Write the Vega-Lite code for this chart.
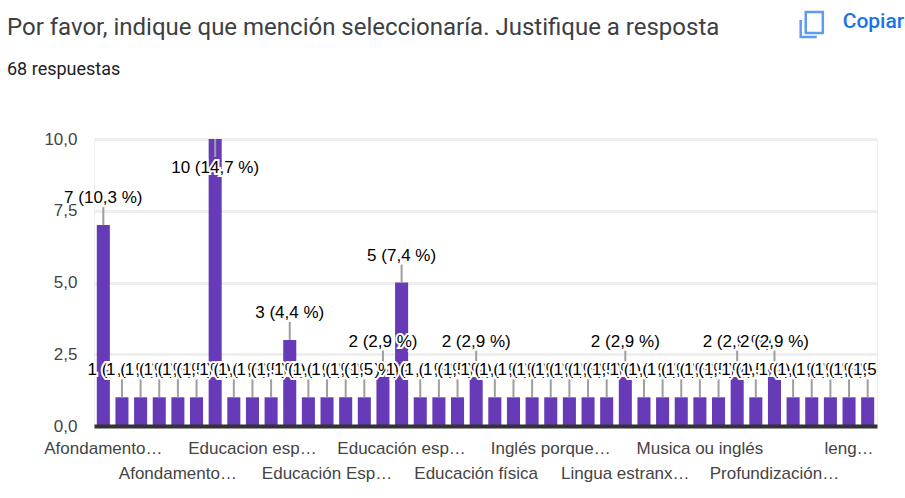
{"$schema":"https://vega.github.io/schema/vega-lite/v6.json","width":783,"height":287,"autosize":"none","padding":{"left":94,"top":139,"right":28,"bottom":72},"background":"white",
"title":{"text":"Por favor, indique que mención seleccionaría. Justifique a resposta","subtitle":"68 respuestas","anchor":"start","frame":"group","dx":-87,"offset":-72,"font":"Roboto","fontSize":24,"fontWeight":"normal","color":"#3c4043","subtitleFont":"Roboto","subtitleFontSize":18,"subtitleColor":"#202124","subtitlePadding":21},
"data":{"values":[{"n":1,"valor":7,"etiqueta":"7 (10,3 %)"},{"n":2,"valor":1,"etiqueta":"1 (1,5 %)"},{"n":3,"valor":1,"etiqueta":"1 (1,5 %)"},{"n":4,"valor":1,"etiqueta":"1 (1,5 %)"},{"n":5,"valor":1,"etiqueta":"1 (1,5 %)"},{"n":6,"valor":1,"etiqueta":"1 (1,5 %)"},{"n":7,"valor":10,"etiqueta":"10 (14,7 %)"},{"n":8,"valor":1,"etiqueta":"1 (1,5 %)"},{"n":9,"valor":1,"etiqueta":"1 (1,5 %)"},{"n":10,"valor":1,"etiqueta":"1 (1,5 %)"},{"n":11,"valor":3,"etiqueta":"3 (4,4 %)"},{"n":12,"valor":1,"etiqueta":"1 (1,5 %)"},{"n":13,"valor":1,"etiqueta":"1 (1,5 %)"},{"n":14,"valor":1,"etiqueta":"1 (1,5 %)"},{"n":15,"valor":1,"etiqueta":"1 (1,5 %)"},{"n":16,"valor":2,"etiqueta":"2 (2,9 %)"},{"n":17,"valor":5,"etiqueta":"5 (7,4 %)"},{"n":18,"valor":1,"etiqueta":"1 (1,5 %)"},{"n":19,"valor":1,"etiqueta":"1 (1,5 %)"},{"n":20,"valor":1,"etiqueta":"1 (1,5 %)"},{"n":21,"valor":2,"etiqueta":"2 (2,9 %)"},{"n":22,"valor":1,"etiqueta":"1 (1,5 %)"},{"n":23,"valor":1,"etiqueta":"1 (1,5 %)"},{"n":24,"valor":1,"etiqueta":"1 (1,5 %)"},{"n":25,"valor":1,"etiqueta":"1 (1,5 %)"},{"n":26,"valor":1,"etiqueta":"1 (1,5 %)"},{"n":27,"valor":1,"etiqueta":"1 (1,5 %)"},{"n":28,"valor":1,"etiqueta":"1 (1,5 %)"},{"n":29,"valor":2,"etiqueta":"2 (2,9 %)"},{"n":30,"valor":1,"etiqueta":"1 (1,5 %)"},{"n":31,"valor":1,"etiqueta":"1 (1,5 %)"},{"n":32,"valor":1,"etiqueta":"1 (1,5 %)"},{"n":33,"valor":1,"etiqueta":"1 (1,5 %)"},{"n":34,"valor":1,"etiqueta":"1 (1,5 %)"},{"n":35,"valor":2,"etiqueta":"2 (2,9 %)"},{"n":36,"valor":1,"etiqueta":"1 (1,5 %)"},{"n":37,"valor":2,"etiqueta":"2 (2,9 %)"},{"n":38,"valor":1,"etiqueta":"1 (1,5 %)"},{"n":39,"valor":1,"etiqueta":"1 (1,5 %)"},{"n":40,"valor":1,"etiqueta":"1 (1,5 %)"},{"n":41,"valor":1,"etiqueta":"1 (1,5 %)"},{"n":42,"valor":1,"etiqueta":"1 (1,5 %)"}]},
"config":{"view":{"stroke":"#eeeeee","strokeWidth":1},"style":{"h":{"align":"center","baseline":"middle","font":"Liberation Sans","fontSize":17,"dy":-27,"fill":"white","stroke":"white","strokeWidth":4},"t":{"align":"center","baseline":"middle","font":"Liberation Sans","fontSize":17,"dy":-27,"fill":"#444444"}}},
"encoding":{"x":{"field":"n","type":"ordinal","sort":null,"scale":{"paddingInner":0.3,"paddingOuter":0.15},"title":null,"axis":{"values":[1,5,9,13,17,21,25,29,33,37,41],"labelExpr":"{'1':'Afondamento…','5':['','Afondamento…'],'9':'Educacion esp…','13':['','Educación Esp…'],'17':'Educación esp…','21':['','Educación física'],'25':'Inglés porque…','29':['','Lingua estranx…'],'33':'Musica ou inglés','37':['','Profundización…'],'41':'leng…'}[datum.value]","labelAngle":0,"labelOverlap":false,"labelBound":false,"labelFlush":false,"labelLimit":0,"labelFont":"Liberation Sans","labelFontSize":17,"labelColor":"#444444","labelLineHeight":25,"labelPadding":14,"ticks":false,"domainColor":"#333333","domainWidth":4,"grid":false,"zindex":1}},"y":{"field":"valor","type":"quantitative","scale":{"domain":[0,10],"nice":false},"title":null,"axis":{"values":[0,2.5,5,7.5,10],"labelExpr":"replace(format(datum.value,'.1f'),'.',',')","labelFont":"Liberation Sans","labelFontSize":17,"labelColor":"#444444","labelPadding":17,"ticks":false,"domain":false,"gridColor":"#eeeeee","gridWidth":3}},"text":{"field":"etiqueta"}},
"layer":[
{"mark":{"type":"bar","color":"#673ab7"},"encoding":{"text":{"value":""}}},
{"transform":[{"filter":"datum.valor<10"}],"mark":{"type":"rule","color":"#9e9e9e","strokeWidth":2,"y2Offset":-18},"encoding":{"y2":{"field":"valor"},"text":{"value":""}}},
{"transform":[{"filter":"datum.valor==10"}],"mark":{"type":"rule","color":"#9e9e9e","strokeWidth":2,"y2Offset":18},"encoding":{"y2":{"field":"valor"},"text":{"value":""}}},
{"transform":[{"filter":"datum.valor>1&&datum.valor<10&&datum.n!=37"}],"mark":{"type":"text","style":"h"}},
{"transform":[{"filter":"datum.valor>1&&datum.valor<10&&datum.n!=37"}],"mark":{"type":"text","style":"t"}},
{"transform":[{"filter":"datum.n==37"}],"mark":{"type":"text","style":"h"}},
{"transform":[{"filter":"datum.n==37"}],"mark":{"type":"text","style":"t"}},
{"transform":[{"filter":"datum.n==7"}],"mark":{"type":"text","style":"h","dy":29}},
{"transform":[{"filter":"datum.n==7"}],"mark":{"type":"text","style":"t","dy":29}},
{"transform":[{"filter":"datum.n==2"}],"mark":{"type":"text","style":"h"}},{"transform":[{"filter":"datum.n==2"}],"mark":{"type":"text","style":"t"}},
{"transform":[{"filter":"datum.n==3"}],"mark":{"type":"text","style":"h"}},{"transform":[{"filter":"datum.n==3"}],"mark":{"type":"text","style":"t"}},
{"transform":[{"filter":"datum.n==4"}],"mark":{"type":"text","style":"h"}},{"transform":[{"filter":"datum.n==4"}],"mark":{"type":"text","style":"t"}},
{"transform":[{"filter":"datum.n==5"}],"mark":{"type":"text","style":"h"}},{"transform":[{"filter":"datum.n==5"}],"mark":{"type":"text","style":"t"}},
{"transform":[{"filter":"datum.n==6"}],"mark":{"type":"text","style":"h"}},{"transform":[{"filter":"datum.n==6"}],"mark":{"type":"text","style":"t"}},
{"transform":[{"filter":"datum.n==8"}],"mark":{"type":"text","style":"h"}},{"transform":[{"filter":"datum.n==8"}],"mark":{"type":"text","style":"t"}},
{"transform":[{"filter":"datum.n==9"}],"mark":{"type":"text","style":"h"}},{"transform":[{"filter":"datum.n==9"}],"mark":{"type":"text","style":"t"}},
{"transform":[{"filter":"datum.n==10"}],"mark":{"type":"text","style":"h"}},{"transform":[{"filter":"datum.n==10"}],"mark":{"type":"text","style":"t"}},
{"transform":[{"filter":"datum.n==12"}],"mark":{"type":"text","style":"h"}},{"transform":[{"filter":"datum.n==12"}],"mark":{"type":"text","style":"t"}},
{"transform":[{"filter":"datum.n==13"}],"mark":{"type":"text","style":"h"}},{"transform":[{"filter":"datum.n==13"}],"mark":{"type":"text","style":"t"}},
{"transform":[{"filter":"datum.n==14"}],"mark":{"type":"text","style":"h"}},{"transform":[{"filter":"datum.n==14"}],"mark":{"type":"text","style":"t"}},
{"transform":[{"filter":"datum.n==15"}],"mark":{"type":"text","style":"h"}},{"transform":[{"filter":"datum.n==15"}],"mark":{"type":"text","style":"t"}},
{"transform":[{"filter":"datum.n==18"}],"mark":{"type":"text","style":"h"}},{"transform":[{"filter":"datum.n==18"}],"mark":{"type":"text","style":"t"}},
{"transform":[{"filter":"datum.n==19"}],"mark":{"type":"text","style":"h"}},{"transform":[{"filter":"datum.n==19"}],"mark":{"type":"text","style":"t"}},
{"transform":[{"filter":"datum.n==20"}],"mark":{"type":"text","style":"h"}},{"transform":[{"filter":"datum.n==20"}],"mark":{"type":"text","style":"t"}},
{"transform":[{"filter":"datum.n==22"}],"mark":{"type":"text","style":"h"}},{"transform":[{"filter":"datum.n==22"}],"mark":{"type":"text","style":"t"}},
{"transform":[{"filter":"datum.n==23"}],"mark":{"type":"text","style":"h"}},{"transform":[{"filter":"datum.n==23"}],"mark":{"type":"text","style":"t"}},
{"transform":[{"filter":"datum.n==24"}],"mark":{"type":"text","style":"h"}},{"transform":[{"filter":"datum.n==24"}],"mark":{"type":"text","style":"t"}},
{"transform":[{"filter":"datum.n==25"}],"mark":{"type":"text","style":"h"}},{"transform":[{"filter":"datum.n==25"}],"mark":{"type":"text","style":"t"}},
{"transform":[{"filter":"datum.n==26"}],"mark":{"type":"text","style":"h"}},{"transform":[{"filter":"datum.n==26"}],"mark":{"type":"text","style":"t"}},
{"transform":[{"filter":"datum.n==27"}],"mark":{"type":"text","style":"h"}},{"transform":[{"filter":"datum.n==27"}],"mark":{"type":"text","style":"t"}},
{"transform":[{"filter":"datum.n==28"}],"mark":{"type":"text","style":"h"}},{"transform":[{"filter":"datum.n==28"}],"mark":{"type":"text","style":"t"}},
{"transform":[{"filter":"datum.n==30"}],"mark":{"type":"text","style":"h"}},{"transform":[{"filter":"datum.n==30"}],"mark":{"type":"text","style":"t"}},
{"transform":[{"filter":"datum.n==31"}],"mark":{"type":"text","style":"h"}},{"transform":[{"filter":"datum.n==31"}],"mark":{"type":"text","style":"t"}},
{"transform":[{"filter":"datum.n==32"}],"mark":{"type":"text","style":"h"}},{"transform":[{"filter":"datum.n==32"}],"mark":{"type":"text","style":"t"}},
{"transform":[{"filter":"datum.n==33"}],"mark":{"type":"text","style":"h"}},{"transform":[{"filter":"datum.n==33"}],"mark":{"type":"text","style":"t"}},
{"transform":[{"filter":"datum.n==34"}],"mark":{"type":"text","style":"h"}},{"transform":[{"filter":"datum.n==34"}],"mark":{"type":"text","style":"t"}},
{"transform":[{"filter":"datum.n==36"}],"mark":{"type":"text","style":"h"}},{"transform":[{"filter":"datum.n==36"}],"mark":{"type":"text","style":"t"}},
{"transform":[{"filter":"datum.n==38"}],"mark":{"type":"text","style":"h"}},{"transform":[{"filter":"datum.n==38"}],"mark":{"type":"text","style":"t"}},
{"transform":[{"filter":"datum.n==39"}],"mark":{"type":"text","style":"h"}},{"transform":[{"filter":"datum.n==39"}],"mark":{"type":"text","style":"t"}},
{"transform":[{"filter":"datum.n==40"}],"mark":{"type":"text","style":"h"}},{"transform":[{"filter":"datum.n==40"}],"mark":{"type":"text","style":"t"}},
{"transform":[{"filter":"datum.n==41"}],"mark":{"type":"text","style":"h","clip":true}},{"transform":[{"filter":"datum.n==41"}],"mark":{"type":"text","style":"t","clip":true}},
{"transform":[{"filter":"datum.n==42"}],"mark":{"type":"text","style":"h","clip":true}},{"transform":[{"filter":"datum.n==42"}],"mark":{"type":"text","style":"t","clip":true}},
{"transform":[{"filter":"datum.n==42"}],"mark":{"type":"text","align":"left","baseline":"middle","font":"Roboto","fontSize":21,"fontWeight":500,"color":"#1a73e8","dx":-25,"dy":-117},"encoding":{"x":{"datum":42},"y":{"datum":10},"text":{"value":"Copiar"}}},
{"transform":[{"filter":"datum.n==42"}],"mark":{"type":"point","filled":false,"stroke":"#1a73e8","strokeWidth":2.5,"size":784,"yOffset":-114.5,"shape":"M-0.43 -0.89H0.79V0.61H-0.43Z M-0.79 -0.32V0.89H0.36"},"encoding":{"x":{"datum":39},"y":{"datum":10},"text":{"value":""}}}
]}
